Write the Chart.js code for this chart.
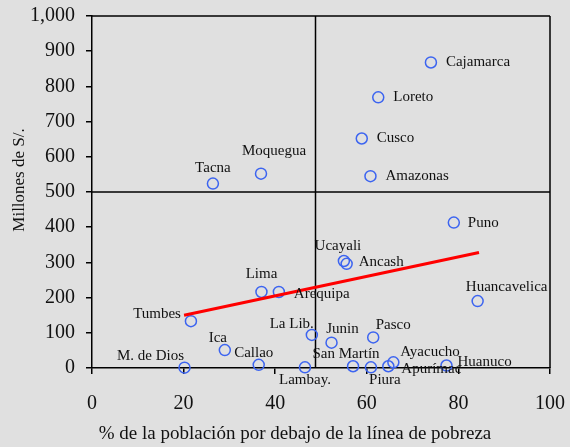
<!DOCTYPE html>
<html><head><meta charset="utf-8">
<script src="https://cdn.jsdelivr.net/npm/chart.js@4.4.0/dist/chart.umd.min.js"></script>
<style>html,body{margin:0;padding:0;background:#e0e0e0;}#wrap{width:570px;height:447px;}</style>
</head><body><div id="wrap"><canvas id="c" width="570" height="447"></canvas></div>
<script>
const regions = ["Cajamarca","Loreto","Cusco","Amazonas","Moquegua","Tacna","Puno","Ucayali","Ancash","Lima","Arequipa","Huancavelica","Tumbes","La Lib.","Junin","Pasco","Ica","Callao","M. de Dios","Lambay.","San Martín","Piura","Apurímac","Ayacucho","Huanuco"];
const poverty  = [74.0,62.5,58.9,60.8,36.9,26.4,79.0,55.0,55.6,37.0,40.8,84.2,21.6,48.0,52.3,61.4,29.0,36.4,20.2,46.5,57.0,60.9,64.7,65.8,77.4];
const spending = [868,769,652,545,552,524,413,304,296,216,216,190,133,94,72,87,51,9,1,2,5,2,5,16,7];
const trendX = [20.1, 84.5];
const trendY = [150, 328];
const refX = 48.8;   // vertical reference line
const refY = 500;    // horizontal reference line
const xTicks = [0,20,40,60,80,100];
const yTicks = [0,100,200,300,400,500,600,700,800,900,1000];
const xTitle = '% de la población por debajo de la línea de pobreza';
const yTitle = 'Millones de S/.';

// label placement (style): [align, dx, dy]
const labelPos = {
  "Cajamarca":["left",15,0],"Loreto":["left",15,0],"Cusco":["left",15,0],"Amazonas":["left",15,0],
  "Moquegua":["center",13,-23],"Tacna":["center",0,-15],"Puno":["left",14,0],"Ucayali":["center",-6,-15],
  "Ancash":["left",12,-2],"Lima":["center",0,-18],"Arequipa":["left",15,2],"Huancavelica":["center",29,-14],
  "Tumbes":["right",-10,-7],"La Lib.":["right",2,-11],"Junin":["center",11,-14],"Pasco":["center",20,-12],
  "Ica":["center",-7,-12],"Callao":["center",-5,-12],"M. de Dios":["center",-34,-12],"Lambay.":["center",0,13],
  "San Martín":["center",-7,-12],"Piura":["center",14,13],"Apurímac":["left",13,3],"Ayacucho":["left",7,-10],
  "Huanuco":["left",11,-3]
};

const SERIF = "'Liberation Serif','Times New Roman',serif";

const overlay = {
  id:'overlay',
  beforeDraw(chart){
    const ctx = chart.ctx;
    ctx.save(); ctx.fillStyle='#e0e0e0'; ctx.fillRect(0,0,chart.width,chart.height); ctx.restore();
  },
  beforeDatasetsDraw(chart){
    const {ctx, chartArea:a, scales:{x,y}} = chart;
    ctx.save();
    ctx.strokeStyle='#000'; ctx.lineWidth=1.5;
    ctx.beginPath();
    ctx.moveTo(a.left,a.top); ctx.lineTo(a.right,a.top);
    ctx.moveTo(a.right,a.top); ctx.lineTo(a.right,a.bottom);
    const vx = x.getPixelForValue(refX);
    ctx.moveTo(vx,a.top); ctx.lineTo(vx,a.bottom);
    const hy = y.getPixelForValue(refY);
    ctx.moveTo(a.left,hy); ctx.lineTo(a.right,hy);
    ctx.stroke();
    // axis titles
    ctx.fillStyle='#111';
    ctx.textAlign='center'; ctx.textBaseline='middle';
    ctx.font = "19px " + SERIF;
    ctx.fillText(xTitle, 295, 434);
    ctx.translate(20, 180);
    ctx.rotate(-Math.PI/2);
    ctx.font = "17px " + SERIF;
    ctx.fillText(yTitle, 0, 0);
    ctx.restore();
  },
  afterDatasetsDraw(chart){
    const {ctx} = chart;
    const meta = chart.getDatasetMeta(0);
    ctx.save();
    ctx.font = "15px " + SERIF;
    ctx.fillStyle = '#111';
    ctx.textBaseline = 'middle';
    meta.data.forEach((pt,i)=>{
      const name = regions[i];
      const p = labelPos[name] || ["left",12,0];
      ctx.textAlign = p[0];
      ctx.fillText(name, pt.x + p[1], pt.y + p[2]);
    });
    ctx.restore();
  }
};

new Chart(document.getElementById('c'), {
  type:'scatter',
  data:{
    datasets:[
      {
        label:'Regiones',
        data: regions.map((r,i)=>({x:poverty[i], y:spending[i]})),
        pointStyle:'circle', pointRadius:5.5, pointHoverRadius:5.5,
        borderColor:'#3c64f0', backgroundColor:'rgba(0,0,0,0)', borderWidth:1.5,
        clip:false, order:1
      },
      {
        label:'Tendencia', type:'line',
        data: trendX.map((v,i)=>({x:v, y:trendY[i]})),
        borderColor:'#ff0000', borderWidth:3, pointRadius:0, fill:false, order:0, clip:false
      }
    ]
  },
  options:{
    responsive:false, animation:false, devicePixelRatio:1,
    layout:{padding:{top:16, right:20, left:0, bottom:0}},
    plugins:{legend:{display:false}, tooltip:{enabled:false}},
    scales:{
      x:{
        type:'linear', min:0, max:100,
        afterBuildTicks(s){ s.ticks = xTicks.map(v=>({value:v})); },
        afterFit(s){ s.height = 79; s.paddingLeft = 0; s.paddingRight = 0; },
        grid:{drawOnChartArea:false, drawTicks:true, tickLength:6, color:'#000', lineWidth:1.5},
        border:{display:true, color:'#000', width:1.5},
        ticks:{color:'#111', font:{family:SERIF, size:20}, padding:18, maxRotation:0},
        title:{display:false}
      },
      y:{
        type:'linear', min:0, max:1000,
        afterBuildTicks(s){ s.ticks = yTicks.map(v=>({value:v})); },
        afterFit(s){ s.width = 92; s.paddingTop = 0; s.paddingBottom = 0; },
        grid:{drawOnChartArea:false, drawTicks:true, tickLength:6, color:'#000', lineWidth:1.5},
        border:{display:true, color:'#000', width:1.5},
        ticks:{color:'#111', font:{family:SERIF, size:20}, padding:11,
          callback:(v)=>v.toLocaleString('en-US')},
        title:{display:false}
      }
    }
  },
  plugins:[overlay]
});
</script></body></html>
